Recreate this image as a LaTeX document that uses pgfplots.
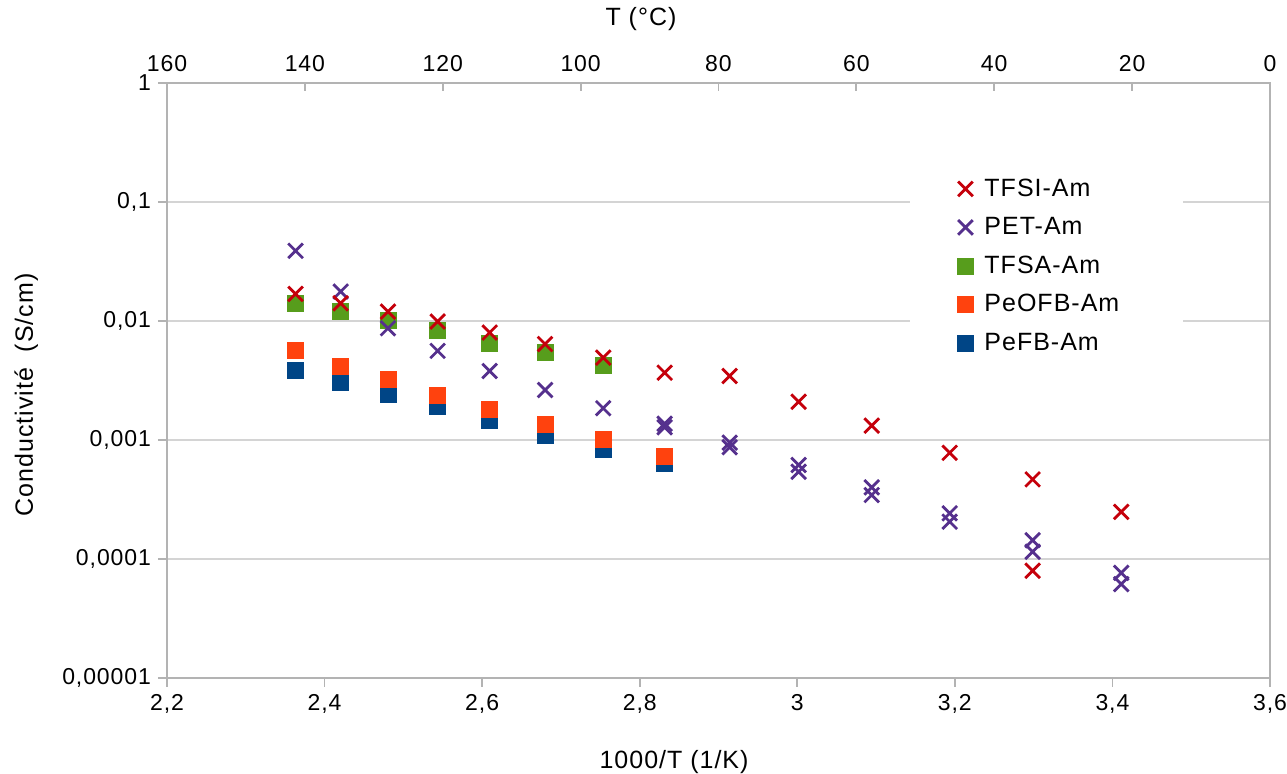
\documentclass[border=0pt]{standalone}
\usepackage{fontspec}
\setmainfont{Liberation Sans}[LetterSpace=4]
\usepackage{pgfplots}
\pgfplotsset{compat=1.18}
\definecolor{cRed}{HTML}{C5000B}
\definecolor{cPur}{HTML}{55308D}
\definecolor{cGrn}{HTML}{579D1C}
\definecolor{cOrg}{HTML}{FF420E}
\definecolor{cBlu}{HTML}{004586}
\definecolor{axgray}{HTML}{B3B3B3}
\definecolor{grgray}{HTML}{D4D4D4}
\begin{document}
\begin{tikzpicture}
\begin{axis}[
  at={(0,0)}, anchor=south west,
  scale only axis, width=551.5pt, height=297.5pt,
  xmin=2.2, xmax=3.6, ymode=log, ymin=1e-5, ymax=1,
  xtick={2.2,2.4,2.6,2.8,3.0,3.2,3.4,3.6},
  xticklabels={{2,2},{2,4},{2,6},{2,8},3,{3,2},{3,4},{3,6}},
  ytick={1e-5,1e-4,1e-3,1e-2,1e-1,1},
  yticklabels={{0,00001},{0,0001},{0,001},{0,01},{0,1},1},
  yminorticks=false, xminorticks=false,
  ymajorgrids,
  grid style={draw=grgray, line width=0.9pt},
  axis line style={draw=axgray, line width=0.9pt},
  tick style={draw=axgray, line width=0.9pt},
  tick align=outside, major tick length=4.5pt,
  xtick pos=lower, ytick pos=left,
  /pgf/number format/assume math mode=true,
  tick label style={font=\fontsize{11.5}{13}\selectfont, text=black},
  label style={font=\fontsize{12.5}{14}\selectfont},
  xlabel={1000/T (1/K)},
  xlabel style={at={(axis description cs:0.4597,-0.1513)}, anchor=base},
  ylabel={Conductivité\ \ (S/cm)},
  ylabel style={at={(axis description cs:-0.1215,0.4756)}, anchor=base, rotate=0},
  title={T (°C)},
  title style={font=\fontsize{12.5}{14}\selectfont, at={(axis description cs:0.4297,1.0773)}, anchor=base},
  only marks,
  reverse legend,
  legend cell align=left,
  legend style={draw=none, fill=none, inner sep=0pt, row sep=0pt, column sep=3.5pt,
    at={(axis description cs:0.7163,0.855)}, anchor=north west,
    font=\fontsize{12.5}{14}\selectfont,
    nodes={minimum height=19.25pt, inner ysep=0pt}},
  legend image code/.code={\draw[mark repeat=2,mark phase=2,#1] plot coordinates {(0pt,0pt) (6pt,0pt) (12pt,0pt)};},
]
\fill[white] (rel axis cs:0.6736,0.865) rectangle (rel axis cs:0.9211,0.54);
% PeFB-Am
\addplot[mark=square*, mark size=4pt, color=cBlu, mark options={rounded corners=1pt}] coordinates {
(2.3632,0.00383) (2.4204,0.00305) (2.4805,0.00242) (2.5435,0.00191) (2.6096,0.00147) (2.6799,0.0011) (2.7537,0.00084) (2.8317,0.00063)};
% PeOFB-Am
\addplot[mark=square*, mark size=4pt, color=cOrg, mark options={rounded corners=1pt}] coordinates {
(2.3632,0.00564) (2.4204,0.00414) (2.4805,0.00324) (2.5435,0.00239) (2.6096,0.00181) (2.6799,0.00136) (2.7537,0.00102) (2.8317,0.00073)};
% TFSA-Am
\addplot[mark=square*, mark size=4pt, color=cGrn, mark options={rounded corners=1pt}] coordinates {
(2.3632,0.0141) (2.4204,0.0120) (2.4805,0.0102) (2.5435,0.00826) (2.6096,0.0065) (2.6799,0.00542) (2.7537,0.00427)};
% PET-Am
\addplot[mark=x, mark size=5.2pt, color=cPur, mark options={line width=1.4pt}] coordinates {
(2.3632,0.0389) (2.4204,0.01767) (2.4805,0.00869) (2.5435,0.00561) (2.6096,0.0038) (2.6799,0.00263) (2.7537,0.00185)
(2.8317,0.00137) (2.8317,0.00128) (2.9142,0.00095) (2.9142,0.00087) (3.0017,0.000616) (3.0017,0.000541)
(3.0945,0.0004) (3.0945,0.000345) (3.1934,0.000242) (3.1934,0.000206) (3.2987,0.000144) (3.2987,0.000115)
(3.4112,0.0000766) (3.4112,0.0000615)};
% TFSI-Am
\addplot[mark=x, mark size=5.2pt, color=cRed, mark options={line width=1.4pt}] coordinates {
(2.3632,0.0169) (2.4204,0.0141) (2.4805,0.0120) (2.5435,0.00989) (2.6096,0.0080) (2.6799,0.0064) (2.7537,0.00492)
(2.8317,0.00368) (2.9142,0.00345) (3.0017,0.0021) (3.0945,0.00132) (3.1934,0.00078) (3.2987,0.000467) (3.2987,0.0000796) (3.4112,0.000249)};
\legend{PeFB-Am,PeOFB-Am,TFSA-Am,PET-Am,TFSI-Am}
\end{axis}
\begin{axis}[
  at={(0,0)}, anchor=south west,
  scale only axis, width=551.5pt, height=297.5pt,
  xmin=0, xmax=160, x dir=reverse, ymin=0, ymax=1,
  axis x line*=top, axis y line=none,
  xtick={0,20,...,160},
  axis line style={draw=axgray, line width=0.9pt, -},
  tick style={draw=axgray, line width=0.9pt},
  tick align=inside, major tick length=4pt,
  /pgf/number format/assume math mode=true,
  tick label style={font=\fontsize{11.5}{13}\selectfont, text=black, yshift=2pt},
]
\end{axis}
\pgfresetboundingbox
\path (-83.5pt,-47.5pt) rectangle (560pt,339pt);
\end{tikzpicture}
\end{document}
